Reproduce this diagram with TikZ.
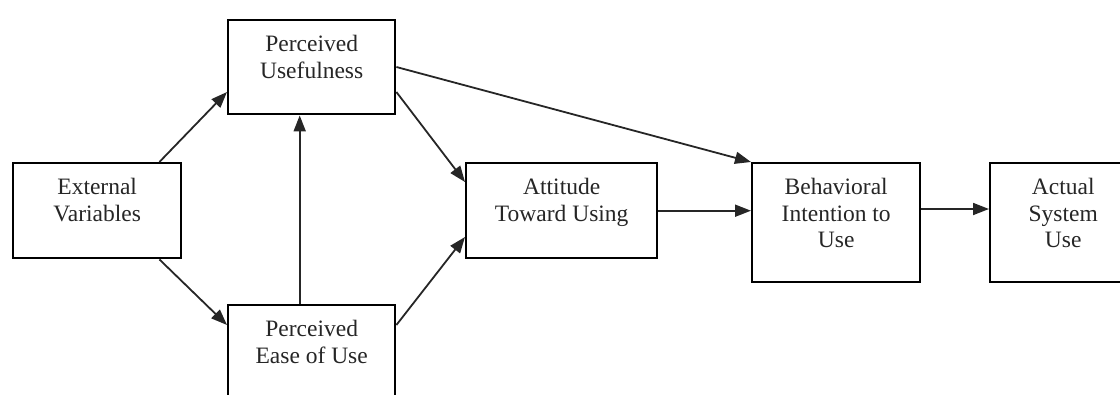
\documentclass[tikz,border=0pt]{standalone}
\usepackage{fontspec}
\setmainfont{Liberation Serif}
\usetikzlibrary{arrows.meta}

\tikzset{
  box/.style={draw=black, line width=2.4pt, rectangle, inner sep=0pt, anchor=north west, fill=white},
  boxtext/.style={anchor=north, yshift=-16pt, inner sep=0pt, align=center,
    font=\fontsize{23.5}{26.5}\selectfont, text=black!85},
  link/.style={draw=black!85, line width=1.8pt, -{Triangle[length=16pt,width=12pt]}}
}

\begin{document}
\begin{tikzpicture}[x=1pt, y=-1pt]
  \useasboundingbox (0,0) rectangle (1120,394);
  \clip (0,0) rectangle (1120,394);

  % construct boxes, labels hung from the top edge
  \node[box, minimum width=168pt, minimum height=95pt,
        label={[boxtext]north:External\\Variables}] (ext) at (12,162) {};
  \node[box, minimum width=167pt, minimum height=94pt,
        label={[boxtext]north:Perceived\\Usefulness}] (pu) at (227,19) {};
  \node[box, minimum width=167pt, minimum height=95pt,
        label={[boxtext]north:Perceived\\Ease of Use}] (pe) at (227,304) {};
  \node[box, minimum width=191pt, minimum height=95pt,
        label={[boxtext]north:Attitude\\Toward Using}] (att) at (465,162) {};
  \node[box, minimum width=168pt, minimum height=119pt,
        label={[boxtext]north:Behavioral\\Intention to\\Use}] (bi) at (751,162) {};
  \node[box, minimum width=146pt, minimum height=119pt,
        label={[boxtext]north:Actual\\System\\Use}] (asu) at (989,162) {};

  % causal paths
  \draw[link] ([xshift=-23pt]ext.north east) -- ([yshift=-73pt]pu.north west);
  \draw[link] ([xshift=-23pt]ext.south east) -- ([yshift=-21pt]pe.north west);
  \draw[link] ([xshift=-12pt]pe.north) -- ([xshift=-12pt]pu.south);
  \draw[link] ([yshift=-73pt]pu.north east) -- ([yshift=-20pt]att.north west);
  \draw[link] ([yshift=-21pt]pe.north east) -- ([yshift=-75pt]att.north west);
  \draw[link] ([yshift=-48pt]pu.north east) -- (bi.north west);
  \draw[link] (att.east) -- (att.east -| bi.west);
  \draw[link] ([yshift=-47pt]bi.north east) -- ([yshift=-47pt]asu.north west);
\end{tikzpicture}
\end{document}
